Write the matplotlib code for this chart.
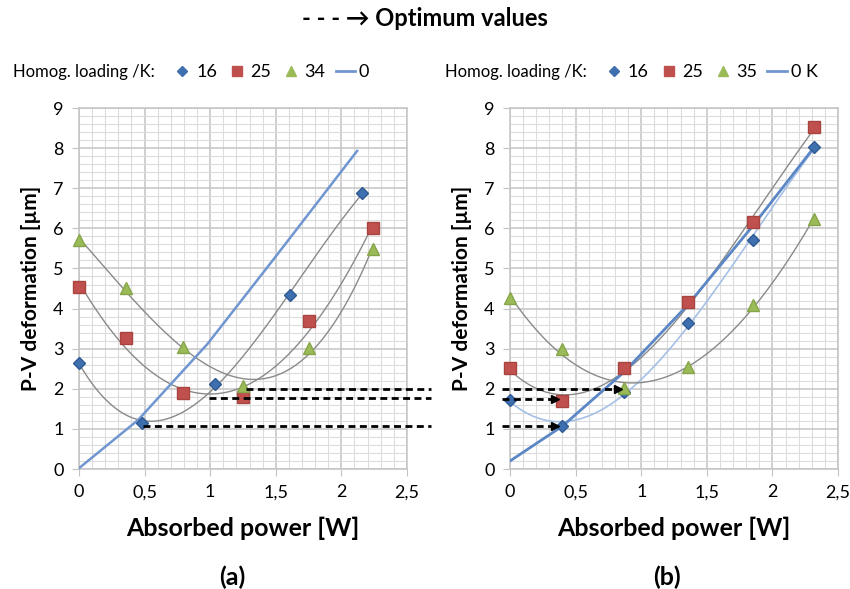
"""Two-panel P-V deformation vs absorbed power, with optimum markers."""

import matplotlib

matplotlib.use("Agg")

import matplotlib.pyplot as plt
import numpy as np
from matplotlib.lines import Line2D
from matplotlib.ticker import FuncFormatter, MultipleLocator

plt.rcParams["font.family"] = ["Lato", "DejaVu Sans"]

# ---- panel (a) ----
A_X16 = [0.0, 0.48, 1.04, 1.61, 2.16]
A_Y16 = [2.65, 1.15, 2.13, 4.35, 6.88]
A_X25 = [0.0, 0.36, 0.79, 1.25, 1.75, 2.24]
A_Y25 = [4.54, 3.27, 1.90, 1.80, 3.69, 6.01]
A_X34 = [0.0, 0.36, 0.79, 1.25, 1.75, 2.24]
A_Y34 = [5.71, 4.52, 3.04, 2.07, 3.02, 5.49]
A_X0 = [0.0, 0.45, 0.98, 1.50, 2.12]
A_Y0 = [0.02, 1.22, 3.12, 5.30, 7.93]
A_OPT_Y = [1.07, 1.76, 1.99]
A_OPT_X0 = [0.49, 0.99, 1.27]
A_OPT_X1 = [2.68, 2.68, 2.68]

# ---- panel (b) ----
B_X = [0.0, 0.40, 0.87, 1.36, 1.85, 2.32]
B_Y16 = [1.72, 1.07, 1.92, 3.64, 5.71, 8.03]
B_Y25 = [2.52, 1.70, 2.52, 4.16, 6.16, 8.53]
B_Y35 = [4.26, 3.00, 2.02, 2.54, 4.09, 6.24]
B_Y0 = [0.20, 1.07, 2.42, 4.11, 6.06, 8.03]
B_OPT_Y = [1.07, 1.75, 1.99]
B_OPT_X0 = [-0.06, -0.06, -0.06]
B_OPT_X1 = [0.34, 0.34, 0.82]

X_TICKS = [0, 0.5, 1, 1.5, 2, 2.5]
Y_TICKS = list(range(10))

BLUE = "#3E6FAF"
RED = "#C0504D"
GREEN = "#9BBB59"
FIT_GRAY = "#8A8A8A"
GRID_MAJOR = "#C4C4C4"
GRID_MINOR = "#DCDCDC"


def comma_fmt(v, _pos):
    if abs(v - round(v)) < 1e-9:
        return f"{int(round(v))}"
    return f"{v:.1f}".replace(".", ",")


def style_axis(ax):
    ax.set_xlim(0, 2.5)
    ax.set_ylim(0, 9)
    ax.set_xticks(X_TICKS)
    ax.set_yticks(Y_TICKS)
    ax.xaxis.set_major_formatter(FuncFormatter(comma_fmt))
    ax.xaxis.set_minor_locator(MultipleLocator(0.1))
    ax.yaxis.set_minor_locator(MultipleLocator(0.2))
    ax.grid(True, which="major", color=GRID_MAJOR, lw=1.1)
    ax.grid(True, which="minor", color=GRID_MINOR, lw=0.8)
    ax.set_axisbelow(True)
    for sp in ax.spines.values():
        sp.set_color(GRID_MAJOR)
        sp.set_linewidth(1.1)
    ax.tick_params(which="major", length=5, color=GRID_MAJOR, labelsize=13, pad=6)
    ax.tick_params(which="minor", length=0)
    ax.set_xlabel("Absorbed power [W]", fontsize=18, fontweight="bold", labelpad=12)
    ax.set_ylabel("P-V deformation [µm]", fontsize=15, fontweight="bold", labelpad=9)


def fit_curve(ax, x, y, color, lw=1.0):
    coef = np.polyfit(x, y, 3)
    xs = np.linspace(min(x), max(x), 200)
    ax.plot(xs, np.polyval(coef, xs), color=color, lw=lw, zorder=2)


def markers(ax, x, y, kind):
    spec = {
        "D": dict(marker="D", ms=6, color=BLUE, mec="#2F5A93"),
        "s": dict(marker="s", ms=8, color=RED, mec="#A84440"),
        "^": dict(marker="^", ms=8, color=GREEN, mec="#86A54A"),
    }[kind]
    ax.plot(x, y, ls="none", zorder=4, clip_on=False, **spec)


def add_legend(fig, ax, x_text, third_label, zero_label):
    fig.text(x_text, 0.877, "Homog. loading /K:", fontsize=12, va="center")
    handles = [
        Line2D([], [], ls="none", marker="D", ms=5, color=BLUE),
        Line2D([], [], ls="none", marker="s", ms=7, color=RED),
        Line2D([], [], ls="none", marker="^", ms=7, color=GREEN),
        Line2D([], [], color="#7096D1", lw=2),
    ]
    labels = ["16", "25", third_label, zero_label]
    leg = ax.legend(
        handles,
        labels,
        ncol=4,
        loc="center left",
        bbox_to_anchor=(x_text + 0.188, 0.877),
        bbox_transform=fig.transFigure,
        frameon=False,
        fontsize=13,
        handlelength=1.1,
        handletextpad=0.2,
        columnspacing=0.55,
        borderaxespad=0,
        borderpad=0,
    )
    return leg


fig = plt.figure(figsize=(8.5, 5.89), dpi=100)
ax_a = fig.add_axes([0.0929, 0.2037, 0.3859, 0.6129])
ax_b = fig.add_axes([0.6000, 0.2037, 0.3859, 0.6129])

# panel (a)
style_axis(ax_a)
fit_curve(ax_a, A_X16, A_Y16, FIT_GRAY)
fit_curve(ax_a, A_X25, A_Y25, FIT_GRAY)
fit_curve(ax_a, A_X34, A_Y34, FIT_GRAY)
ax_a.plot(A_X0, A_Y0, color="#7096D1", lw=1.8, zorder=3)
for y, x0, x1 in zip(A_OPT_Y, A_OPT_X0, A_OPT_X1):
    ax_a.plot([x0, x1], [y, y], color="black", lw=2, dashes=(2.5, 1.6),
              clip_on=False, zorder=5)
markers(ax_a, A_X16, A_Y16, "D")
markers(ax_a, A_X25, A_Y25, "s")
markers(ax_a, A_X34, A_Y34, "^")
add_legend(fig, ax_a, 0.015, "34", "0")

# panel (b)
style_axis(ax_b)
fit_curve(ax_b, B_X, B_Y16, "#A5C0E6", lw=1.2)
fit_curve(ax_b, B_X, B_Y25, FIT_GRAY)
fit_curve(ax_b, B_X, B_Y35, FIT_GRAY)
ax_b.plot(B_X, B_Y0, color="#5B87C6", lw=2.0, zorder=3)
for y, x0, x1 in zip(B_OPT_Y, B_OPT_X0, B_OPT_X1):
    ax_b.plot([x0, x1], [y, y], color="black", lw=2, dashes=(2.5, 1.6),
              clip_on=False, zorder=5)
    ax_b.plot([x1], [y], marker=">", ms=6, color="black", clip_on=False, zorder=5)
markers(ax_b, B_X, B_Y16, "D")
markers(ax_b, B_X, B_Y25, "s")
markers(ax_b, B_X, B_Y35, "^")
add_legend(fig, ax_b, 0.523, "35", "0 K")

fig.text(0.5, 0.968, "- - - → Optimum values", ha="center", va="center",
         fontsize=17, fontweight="bold")
fig.text(0.273, 0.02, "(a)", ha="center", va="center", fontsize=18, fontweight="bold")
fig.text(0.785, 0.02, "(b)", ha="center", va="center", fontsize=18, fontweight="bold")

fig.savefig("out.png", dpi=100, facecolor="white")
